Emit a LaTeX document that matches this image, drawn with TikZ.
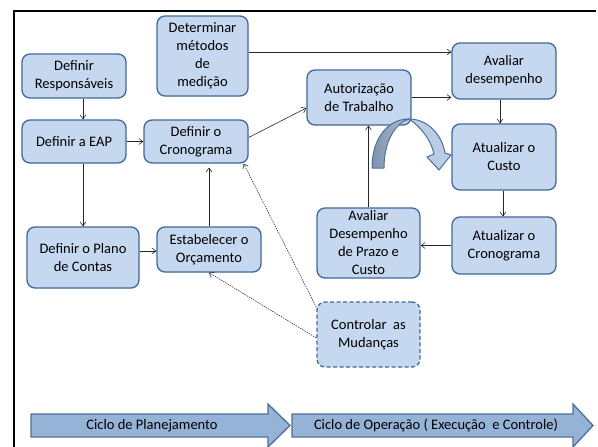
\documentclass[tikz,border=0pt]{standalone}
\usepackage{fontspec}
\setmainfont{Carlito}
\usetikzlibrary{arrows.meta}
\definecolor{boxfill}{HTML}{C5D8F0}
\definecolor{boxdraw}{HTML}{41679A}
\definecolor{bandfill}{HTML}{95B3D7}
\definecolor{banddraw}{HTML}{4F6F99}
\definecolor{darkpart}{HTML}{8DA3BF}
\definecolor{lightpart}{HTML}{B9CDE5}
\begin{document}
\begin{tikzpicture}[x=1pt,y=-1pt,
  box/.style={draw=boxdraw, fill=boxfill, line width=1.3pt, rounded corners=8pt,
    align=center, inner sep=0pt, text=black, font=\fontsize{14.5}{18}\selectfont},
  dbox/.style={box, dash pattern=on 4pt off 2.5pt},
  conn/.style={draw=black!85, line width=0.6pt, -{Straight Barb[length=4pt,width=6pt]}},
  dconn/.style={conn, dash pattern=on 1.5pt off 1pt, line width=0.55pt},
  band/.style={draw=banddraw, fill=bandfill, line width=1.3pt, line join=miter},
  bandtext/.style={text=black, font=\fontsize{14.5}{18}\selectfont, inner sep=0pt}]
\useasboundingbox (0,0) rectangle (598,447);
% frame
\draw[line width=2.2pt] (596,11) -- (14,11) -- (14,447);
% boxes
\node[box, minimum width=104pt, minimum height=44pt] (resp) at (74,76) {Definir\\Responsáveis};
\node[box, minimum width=91pt, minimum height=80pt] (met) at (202.5,56) {Determinar\\métodos\\de\\medição};
\node[box, minimum width=104pt, minimum height=43pt] (eap) at (74,141.5) {Definir a EAP};
\node[box, minimum width=104pt, minimum height=43pt] (cron) at (196,141.5) {Definir o\\Cronograma};
\node[box, minimum width=112pt, minimum height=61pt] (plano) at (83,257.5) {Definir o Plano\\de Contas};
\node[box, minimum width=104pt, minimum height=45pt] (orc) at (209,249.5) {Estabelecer o\\Orçamento};
\node[box, minimum width=104pt, minimum height=55pt] (aut) at (359,97.5) {Autorização\\de Trabalho};
\node[box, minimum width=104pt, minimum height=56pt] (avd) at (504,71) {Avaliar\\desempenho};
\node[box, minimum width=104pt, minimum height=66pt] (custo) at (504,157) {Atualizar o\\Custo};
\node[box, minimum width=103pt, minimum height=70pt] (adpc) at (368.5,243) {Avaliar\\Desempenho\\de Prazo e\\Custo};
\node[box, minimum width=104pt, minimum height=57pt] (acron) at (504,245.5) {Atualizar o\\Cronograma};
\node[dbox, minimum width=103pt, minimum height=65pt] (ctrl) at (368.5,334.5) {Controlar~ as\\Mudanças};
% connectors
\draw[conn] ([xshift=9pt]resp.south) -- ([xshift=9pt]eap.north);
\draw[conn] (eap.east) -- (cron.west);
\draw[conn] ([xshift=9pt]eap.south) -- (plano.north);
\draw[conn] (plano.east |- 0,251) -- (orc.west |- 0,251);
\draw[conn, shorten >=4pt] (orc.north) -- (orc.north |- cron.south);
\draw[conn] ([yshift=4pt]cron.east) -- ([yshift=-10.5pt]aut.west);
\draw[conn] ([yshift=4pt]met.east) -- ([yshift=4pt]met.east -| avd.west);
\draw[conn] (aut.east) -- (aut.east -| avd.west);
\draw[conn] ([xshift=-4pt]avd.south) -- ([xshift=-4pt]avd.south |- custo.north);
\draw[conn] ([xshift=-1pt]custo.south) -- ([xshift=-1pt]custo.south |- acron.north);
\draw[conn] (acron.west) -- (acron.west -| adpc.east);
\draw[conn] (adpc.north) -- (adpc.north |- aut.south);
\draw[dconn] ([yshift=-6pt]ctrl.north west) -- ([xshift=-5pt]cron.south east);
\draw[dconn] ([yshift=-3.5pt]ctrl.west) -- (orc.south);
% curved arrow
\draw[draw=banddraw, left color=darkpart!90!black, right color=darkpart!70!white, line width=1pt, line join=round]
  (372,168) .. controls (372,138) and (388,119) .. (409,119)
  .. controls (396,123) and (384,140) .. (384,168) -- cycle;
\draw[draw=banddraw, fill=lightpart, line width=1pt, line join=miter]
  (409,119) .. controls (428,119) and (442,135) .. (445,153)
  -- (451,155) -- (439,170) -- (427,157) -- (434,154)
  .. controls (431,140) and (421,127) .. (409,119) -- cycle;
% bottom bands
\draw[band] (31,414) -- (268,414) -- (268,404) -- (290,425.5) -- (268,447) -- (268,437) -- (31,437) -- cycle;
\node[bandtext] (plan) at (152,425.5) {Ciclo de Planejamento};
\draw[band] (292,414) -- (573,414) -- (573,404) -- (593,425.5) -- (573,447) -- (573,437) -- (292,437) -- cycle;
\node[bandtext] (oper) at (436,425.5) {Ciclo de Operação ( Execução~ e Controle)};
\end{tikzpicture}
\end{document}
